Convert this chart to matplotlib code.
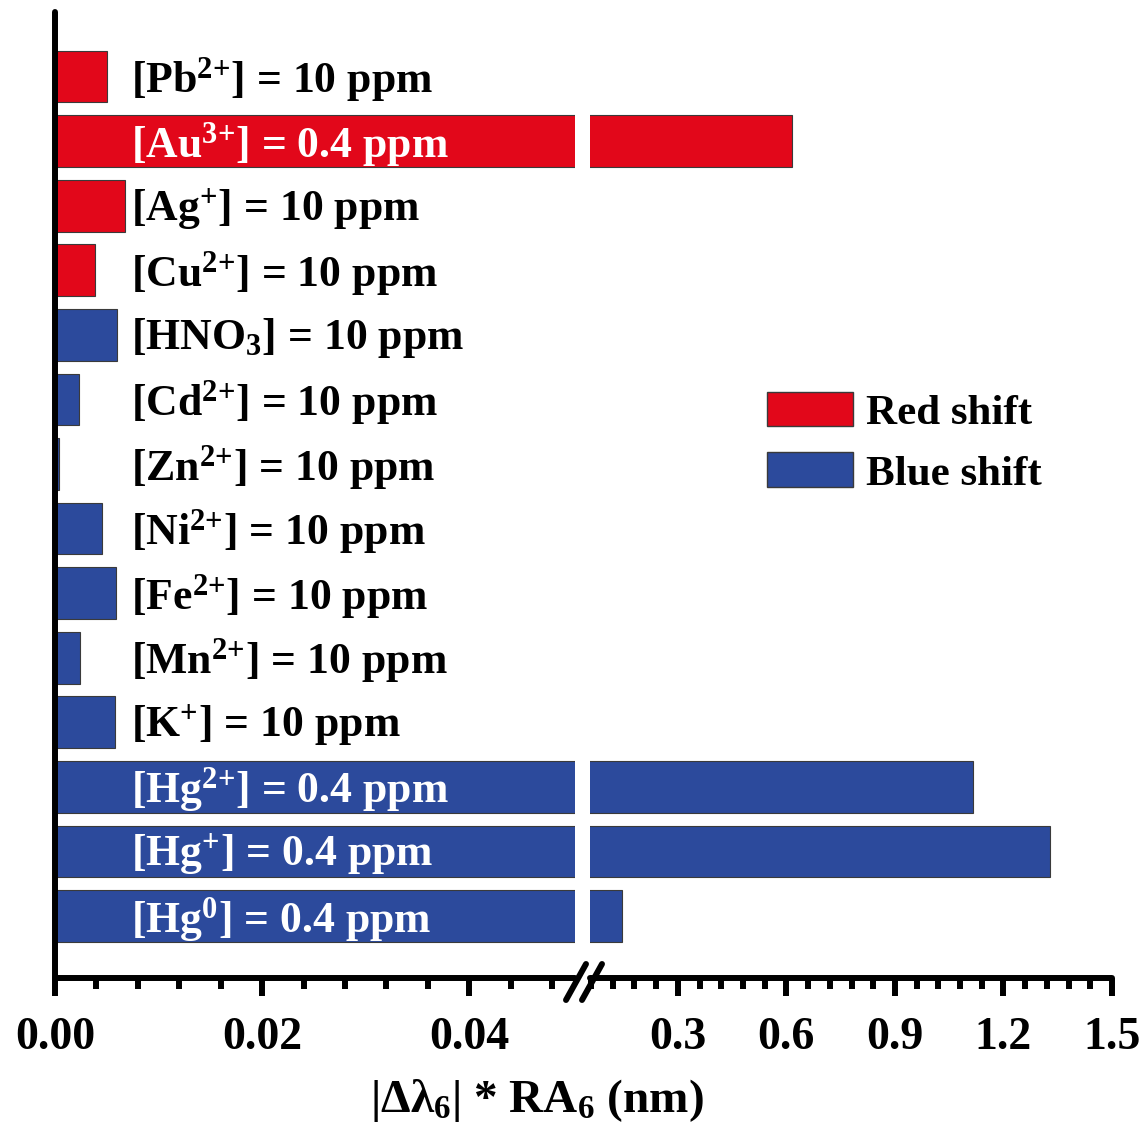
import matplotlib
matplotlib.use('Agg')
import matplotlib.pyplot as plt
from matplotlib.patches import Patch
from matplotlib.lines import Line2D
from matplotlib.ticker import MultipleLocator

plt.rcParams['font.family'] = ['Liberation Serif', 'DejaVu Serif']
plt.rcParams['font.weight'] = 'bold'
plt.rcParams['mathtext.fontset'] = 'custom'
plt.rcParams['mathtext.rm'] = 'Liberation Serif:bold'
plt.rcParams['mathtext.it'] = 'Liberation Serif:bold'
plt.rcParams['mathtext.bf'] = 'Liberation Serif:bold'

# data, top to bottom
ions = ['Pb$^{2{+}}$', 'Au$^{3{+}}$', 'Ag$^{{+}}$', 'Cu$^{2{+}}$', 'HNO$_3$', 'Cd$^{2{+}}$',
        'Zn$^{2{+}}$', 'Ni$^{2{+}}$', 'Fe$^{2{+}}$', 'Mn$^{2{+}}$', 'K$^{{+}}$',
        'Hg$^{2{+}}$', 'Hg$^{{+}}$', 'Hg$^{0}$']
conc = ['10', '0.4', '10', '10', '10', '10', '10', '10', '10', '10', '10',
        '0.4', '0.4', '0.4']
shift = ['red'] * 4 + ['blue'] * 10
values = [0.0050, 0.615, 0.0068, 0.0039, 0.0060, 0.0023, 0.0004, 0.0045,
          0.0059, 0.0024, 0.0058, 1.116, 1.329, 0.145]

red = '#E2071A'
blue = '#2C4A9C'
colors = [red if s == 'red' else blue for s in shift]
n = len(values)
ypos = [n - 1 - i for i in range(n)]

W, H = 1147, 1140
fig = plt.figure(figsize=(W / 100, H / 100), dpi=100)
bot = 1 - 978 / H
top = 1 - 12 / H
ax1 = fig.add_axes([55 / W, bot, 520 / W, top - bot])
ax2 = fig.add_axes([590 / W, bot, 522 / W, top - bot])

left_max = 0.0502
ax1.set_xlim(0, left_max)
ax2.set_xlim(0.057, 1.5)

lw = 4.3
for ax in (ax1, ax2):
    ax.barh(ypos, values, height=0.8, color=colors, edgecolor='#3a3a3a',
            linewidth=0.8, zorder=1)
    ax.set_ylim(-0.96, 14.0)
    ax.set_yticks([])
    for s in ('top', 'right'):
        ax.spines[s].set_visible(False)
    ax.spines['bottom'].set_linewidth(lw)
    ax.spines['bottom'].set_capstyle('round')
    ax.tick_params(axis='x', which='major', length=13, width=lw,
                   labelsize=33, pad=15)
    ax.tick_params(axis='x', which='minor', length=8, width=lw)
    ax.set_facecolor('none')

ax1.spines['left'].set_linewidth(lw)
ax1.spines['left'].set_capstyle('round')
ax1.spines['left'].set_zorder(5)
ax2.spines['left'].set_visible(False)

ax1.xaxis.set_major_locator(MultipleLocator(0.02))
ax1.xaxis.set_minor_locator(MultipleLocator(0.004))
ax1.xaxis.set_major_formatter(lambda v, p: f'{v:.2f}')
ax2.set_xticks([0.3, 0.6, 0.9, 1.2, 1.5])
ax2.xaxis.set_minor_locator(MultipleLocator(0.06))
ax2.xaxis.set_major_formatter(lambda v, p: f'{v:.1f}')

for y, ion, c, v in zip(ypos, ions, conc, values):
    tc = 'white' if v > left_max else 'black'
    ax1.text(0.0073, y - 0.05, f'[{ion}] = {c} ppm', color=tc, fontsize=31.5,
             va='center', ha='left', zorder=4)

# axis break marks
for dx in (0, 16):
    fig.add_artist(Line2D([(566 + dx) / W, (586 + dx) / W],
                          [1 - 1000 / H, 1 - 964 / H], transform=fig.transFigure,
                          lw=lw, color='black', solid_capstyle='round'))

handles = [Patch(facecolor=red, edgecolor='#3a3a3a', linewidth=1),
           Patch(facecolor=blue, edgecolor='#3a3a3a', linewidth=1)]
fig.legend(handles, ['Red shift', 'Blue shift'], loc='upper left',
           bbox_to_anchor=(767 / W, 1 - 392 / H), frameon=False, fontsize=31,
           handlelength=2.0, handleheight=0.85, handletextpad=0.3,
           labelspacing=0.45, borderaxespad=0, borderpad=0)

fig.text(537 / W, 1 - 1100 / H, '|Δλ$_6$| * RA$_6$ (nm)', ha='center',
         va='center', fontsize=34)

fig.savefig('out.png', dpi=100)
